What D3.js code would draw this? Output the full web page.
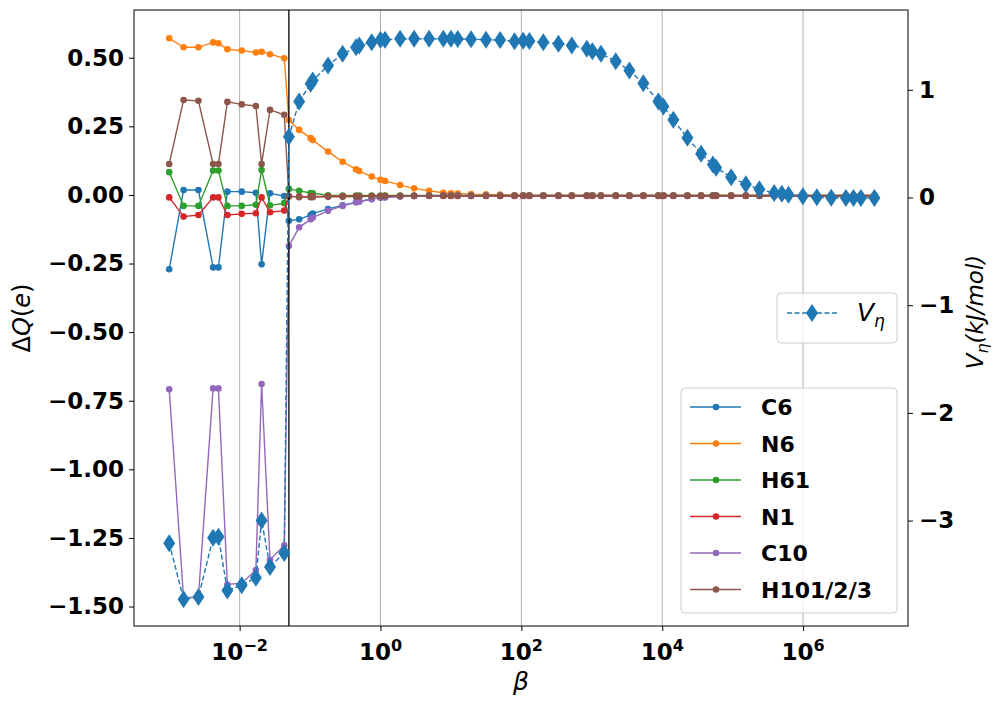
<!DOCTYPE html>
<html>
<head>
<meta charset="utf-8">
<script src="https://cdn.jsdelivr.net/npm/d3@7"></script>
<style>
body{margin:0;background:#fff;}
text{font-family:"DejaVu Sans",sans-serif;}
</style>
</head>
<body>
<div id="chart-area"></div>
<script>
// beta values (x, log scale)
var beta = [0.001, 0.0016, 0.0026, 0.0042, 0.005, 0.0067, 0.0107, 0.017, 0.0205, 0.027, 0.043,
    0.05, 0.07, 0.102, 0.109, 0.18, 0.29, 0.45, 0.5, 0.75, 1.0,
    1.16, 1.9, 3.0, 4.9, 7.8, 10, 12.5, 19.3, 31.5, 50,
    80, 106, 130, 205, 336, 520, 850, 1020, 1350, 2190,
    3420, 5400, 8830, 10400, 14400, 22800, 35700, 52400, 58300, 95300,
    154000, 240000, 389000, 500000, 621000, 993000, 1570000, 2510000, 4060000, 5200000,
    6620000, 10300000];

// charge differences, left axis
var dqC6 = [-0.271, 0.018, 0.018, -0.264, -0.264, 0.012, 0.012, 0.008, -0.253, 0.006, -0.004,
    -0.094, -0.089, -0.073, -0.068, -0.051, -0.038, -0.026, -0.024, -0.015, -0.009,
    -0.008, -0.005, -0.004, -0.003, -0.003, -0.003, -0.003, -0.003, -0.003, -0.003,
    -0.003, -0.003, -0.003, -0.003, -0.003, -0.003, -0.003, -0.003, -0.003, -0.003,
    -0.003, -0.003, -0.003, -0.003, -0.003, -0.003, -0.003, -0.003, -0.003, -0.003,
    -0.003, -0.003, -0.003, -0.003, -0.003, -0.003, -0.003, -0.003, -0.003, -0.003,
    -0.003, -0.003];
var dqN6 = [0.571, 0.538, 0.538, 0.556, 0.553, 0.531, 0.526, 0.519, 0.522, 0.513, 0.498,
    0.273, 0.237, 0.207, 0.200, 0.158, 0.121, 0.093, 0.087, 0.067, 0.055,
    0.051, 0.036, 0.024, 0.015, 0.008, 0.006, 0.005, 0.003, 0.002, 0.001,
    -0.001, -0.001, -0.001, -0.001, -0.001, -0.001, -0.001, -0.001, -0.001, -0.001,
    -0.001, -0.001, -0.001, -0.001, -0.001, -0.001, -0.001, -0.001, -0.001, -0.001,
    -0.001, -0.001, -0.001, -0.001, -0.001, -0.001, -0.001, -0.001, -0.001, -0.001,
    -0.001, -0.001];
var dqH61 = [0.083, -0.040, -0.040, 0.089, 0.089, -0.040, -0.040, -0.036, 0.091, -0.038, -0.030,
    0.022, 0.015, 0.007, 0.006, -0.001, -0.002, -0.002, -0.002, -0.002, -0.002,
    -0.002, -0.002, -0.002, -0.002, -0.002, -0.002, -0.002, -0.002, -0.002, -0.002,
    -0.002, -0.002, -0.002, -0.002, -0.002, -0.002, -0.002, -0.002, -0.002, -0.002,
    -0.002, -0.002, -0.002, -0.002, -0.002, -0.002, -0.002, -0.002, -0.002, -0.002,
    -0.002, -0.002, -0.002, -0.002, -0.002, -0.002, -0.002, -0.002, -0.002, -0.002,
    -0.002, -0.002];
var dqN1 = [-0.009, -0.079, -0.073, -0.009, -0.009, -0.073, -0.069, -0.067, -0.009, -0.063, -0.057,
    -0.006, -0.006, -0.006, -0.006, -0.005, -0.005, -0.005, -0.005, -0.005, -0.004,
    -0.004, -0.004, -0.004, -0.004, -0.004, -0.004, -0.004, -0.004, -0.004, -0.004,
    -0.004, -0.004, -0.004, -0.004, -0.004, -0.004, -0.004, -0.004, -0.004, -0.004,
    -0.004, -0.004, -0.004, -0.004, -0.004, -0.004, -0.004, -0.004, -0.004, -0.004,
    -0.004, -0.004, -0.004, -0.004, -0.004, -0.004, -0.004, -0.004, -0.004, -0.004,
    -0.004, -0.004];
var dqC10 = [-0.708, -1.470, -1.464, -0.705, -0.705, -1.420, -1.415, -1.367, -0.689, -1.330, -1.277,
    -0.186, -0.118, -0.089, -0.083, -0.058, -0.040, -0.027, -0.024, -0.016, -0.010,
    -0.009, -0.006, -0.004, -0.003, -0.002, -0.002, -0.002, -0.002, -0.002, -0.002,
    -0.002, -0.002, -0.002, -0.002, -0.002, -0.002, -0.002, -0.002, -0.002, -0.002,
    -0.002, -0.002, -0.002, -0.002, -0.002, -0.002, -0.002, -0.002, -0.002, -0.002,
    -0.002, -0.002, -0.002, -0.002, -0.002, -0.002, -0.002, -0.002, -0.002, -0.002,
    -0.002, -0.002];
var dqH101 = [0.113, 0.346, 0.343, 0.113, 0.113, 0.339, 0.330, 0.324, 0.113, 0.310, 0.292,
    -0.004, -0.008, -0.008, -0.008, -0.007, -0.007, -0.006, -0.006, -0.005, -0.005,
    -0.004, -0.004, -0.003, -0.003, -0.003, -0.003, -0.003, -0.003, -0.003, -0.003,
    -0.003, -0.003, -0.003, -0.003, -0.003, -0.003, -0.003, -0.003, -0.003, -0.003,
    -0.003, -0.003, -0.003, -0.003, -0.003, -0.003, -0.003, -0.003, -0.003, -0.003,
    -0.003, -0.003, -0.003, -0.003, -0.003, -0.003, -0.003, -0.003, -0.003, -0.003,
    -0.003, -0.003];

// V_eta, right axis (kJ/mol)
var vEta = [-3.21, -3.73, -3.71, -3.16, -3.15, -3.65, -3.60, -3.53, -3.00, -3.43, -3.30,
    0.564, 0.891, 1.056, 1.086, 1.226, 1.334, 1.396, 1.411, 1.442, 1.464,
    1.464, 1.473, 1.473, 1.473, 1.473, 1.473, 1.472, 1.470, 1.465, 1.462,
    1.451, 1.455, 1.452, 1.442, 1.427, 1.411, 1.381, 1.358, 1.334, 1.266,
    1.179, 1.061, 0.891, 0.845, 0.721, 0.554, 0.406, 0.306, 0.276, 0.188,
    0.124, 0.076, 0.042, 0.034, 0.025, 0.012, 0.003, -0.002, -0.004, -0.004,
    -0.004, -0.004];

var seriesNames = ["C6", "N6", "H61", "N1", "C10", "H101/2/3"];
var seriesValues = [dqC6, dqN6, dqH61, dqN1, dqC10, dqH101];
var seriesColors = ["#1f77b4", "#ff7f0e", "#2ca02c", "#d62728", "#9467bd", "#8c564b"];
var leftTicks = [0.5, 0.25, 0, -0.25, -0.5, -0.75, -1, -1.25, -1.5];
var rightTicks = [1, 0, -1, -2, -3];
var xTickExp = [-2, 0, 2, 4, 6];
var cutoffBeta = 0.05;

var width = 1004, height = 706;
var plot = {left: 134, right: 908, top: 10, bottom: 626};

var svg = d3.select("#chart-area").append("svg")
    .attr("width", width)
    .attr("height", height);

var x = d3.scaleLog()
    .domain([Math.pow(10, -3.5), Math.pow(10, 7.49)])
    .range([plot.left, plot.right]);
var yL = d3.scaleLinear()
    .domain([-1.571, 0.674])
    .range([plot.bottom, plot.top]);
var yR = d3.scaleLinear()
    .domain([-3.979, 1.741])
    .range([plot.bottom, plot.top]);

var xTicks = xTickExp.map((e) => Math.pow(10, e));

// grid
svg.append("g").selectAll("line")
    .data(xTicks)
    .enter().append("line")
    .attr("x1", (d) => x(d)).attr("x2", (d) => x(d))
    .attr("y1", plot.top).attr("y2", plot.bottom)
    .attr("stroke", "#b0b0b0")
    .attr("stroke-width", 1);

// charge series
var line = d3.line()
    .x((d) => x(d[0]))
    .y((d) => yL(d[1]));

seriesValues.forEach((vals, k) => {
    var pts = beta.map((b, i) => [b, vals[i]]);
    var gs = svg.append("g");
    gs.append("path")
        .datum(pts)
        .attr("d", line)
        .attr("fill", "none")
        .attr("stroke", seriesColors[k])
        .attr("stroke-width", 1.4);
    gs.selectAll("circle")
        .data(pts)
        .enter().append("circle")
        .attr("cx", (d) => x(d[0]))
        .attr("cy", (d) => yL(d[1]))
        .attr("r", 3.3)
        .attr("fill", seriesColors[k]);
});

// cutoff line
svg.append("line")
    .attr("x1", x(cutoffBeta)).attr("x2", x(cutoffBeta))
    .attr("y1", plot.top).attr("y2", plot.bottom)
    .attr("stroke", "black")
    .attr("stroke-width", 1.3);

// V_eta series
var diamond = "M0,-9L6,0L0,9L-6,0Z";
var vPts = beta.map((b, i) => [b, vEta[i]]);
svg.append("path")
    .datum(vPts)
    .attr("d", d3.line().x((d) => x(d[0])).y((d) => yR(d[1])))
    .attr("fill", "none")
    .attr("stroke", "#1f77b4")
    .attr("stroke-width", 1.4)
    .attr("stroke-dasharray", "5,2.5");
svg.append("g").selectAll("path")
    .data(vPts)
    .enter().append("path")
    .attr("d", diamond)
    .attr("transform", (d) => "translate(" + x(d[0]) + "," + yR(d[1]) + ")")
    .attr("fill", "#1f77b4");

// frame
svg.append("rect")
    .attr("x", plot.left).attr("y", plot.top)
    .attr("width", plot.right - plot.left)
    .attr("height", plot.bottom - plot.top)
    .attr("fill", "none")
    .attr("stroke", "black")
    .attr("stroke-width", 1);

// axes
var leftAxis = d3.axisLeft(yL)
    .tickValues(leftTicks)
    .tickFormat(d3.format(".2f"))
    .tickSize(5).tickPadding(5);
var gl = svg.append("g")
    .attr("transform", "translate(" + plot.left + ",0)")
    .call(leftAxis);

var rightAxis = d3.axisRight(yR)
    .tickValues(rightTicks)
    .tickFormat(d3.format("d"))
    .tickSize(5).tickPadding(6);
var gr = svg.append("g")
    .attr("transform", "translate(" + plot.right + ",0)")
    .call(rightAxis);

var bottomAxis = d3.axisBottom(x)
    .tickValues(xTicks)
    .tickFormat("")
    .tickSize(5);
var gb = svg.append("g")
    .attr("transform", "translate(0," + plot.bottom + ")")
    .call(bottomAxis);

[gl, gr, gb].forEach((g) => {
    g.select(".domain").remove();
    g.selectAll("line").attr("stroke", "black");
    g.selectAll("text")
        .attr("font-size", "23px")
        .attr("font-weight", "bold")
        .attr("fill", "black")
        .style("font-family", "'DejaVu Sans', sans-serif");
});

// x tick labels 10^n
xTickExp.forEach((e) => {
    var t = svg.append("text")
        .attr("x", x(Math.pow(10, e)))
        .attr("y", plot.bottom + 34)
        .attr("text-anchor", "middle")
        .attr("font-size", "23px")
        .attr("font-weight", "bold");
    t.append("tspan").text("10");
    t.append("tspan")
        .attr("dy", -9)
        .attr("font-size", "16px")
        .text(e < 0 ? "\u2212" + (-e) : "" + e);
});

// axis labels
svg.append("text")
    .attr("x", (plot.left + plot.right) / 2)
    .attr("y", 690)
    .attr("text-anchor", "middle")
    .attr("font-size", "25px")
    .attr("font-style", "italic")
    .text("\u03b2");

var ylab = svg.append("text")
    .attr("transform", "translate(30,318) rotate(-90)")
    .attr("text-anchor", "middle")
    .attr("font-size", "24px");
ylab.append("tspan").text("\u0394");
ylab.append("tspan").attr("font-style", "italic").text("Q");
ylab.append("tspan").text("(");
ylab.append("tspan").attr("font-style", "italic").text("e");
ylab.append("tspan").text(")");

var rlab = svg.append("text")
    .attr("transform", "translate(983,312) rotate(-90)")
    .attr("text-anchor", "middle")
    .attr("font-size", "23px")
    .attr("font-style", "italic");
rlab.append("tspan").text("V");
rlab.append("tspan").attr("dy", 5).attr("font-size", "16px").text("\u03b7");
rlab.append("tspan").attr("dy", -5).text("(kJ/mol)");

// V_eta legend
var lg2 = svg.append("g");
lg2.append("rect")
    .attr("x", 777).attr("y", 293)
    .attr("width", 120).attr("height", 50)
    .attr("rx", 4)
    .attr("fill", "white").attr("fill-opacity", 0.8)
    .attr("stroke", "#cccccc");
lg2.append("line")
    .attr("x1", 787).attr("x2", 837)
    .attr("y1", 313).attr("y2", 313)
    .attr("stroke", "#1f77b4").attr("stroke-width", 1.4)
    .attr("stroke-dasharray", "5,2.5");
lg2.append("path")
    .attr("d", diamond)
    .attr("transform", "translate(812,313)")
    .attr("fill", "#1f77b4");
var lt = lg2.append("text")
    .attr("x", 857).attr("y", 321)
    .attr("font-size", "25px")
    .attr("font-style", "italic");
lt.append("tspan").text("V");
lt.append("tspan").attr("dy", 6).attr("font-size", "17px").text("\u03b7");

// charge legend
var lg1 = svg.append("g");
lg1.append("rect")
    .attr("x", 681).attr("y", 388)
    .attr("width", 216).attr("height", 225)
    .attr("rx", 4)
    .attr("fill", "white").attr("fill-opacity", 0.8)
    .attr("stroke", "#cccccc");
var rows = lg1.selectAll("g.row")
    .data(seriesNames)
    .enter().append("g")
    .attr("class", "row")
    .attr("transform", (d, i) => "translate(0," + (407 + i * 36.5) + ")");
rows.append("line")
    .attr("x1", 690).attr("x2", 741)
    .attr("stroke", (d, i) => seriesColors[i])
    .attr("stroke-width", 1.4);
rows.append("circle")
    .attr("cx", 716).attr("r", 3.3)
    .attr("fill", (d, i) => seriesColors[i]);
rows.append("text")
    .attr("x", 761).attr("y", 8)
    .attr("font-size", "22px")
    .attr("font-weight", "bold")
    .text((d) => d);
</script>
</body>
</html>
